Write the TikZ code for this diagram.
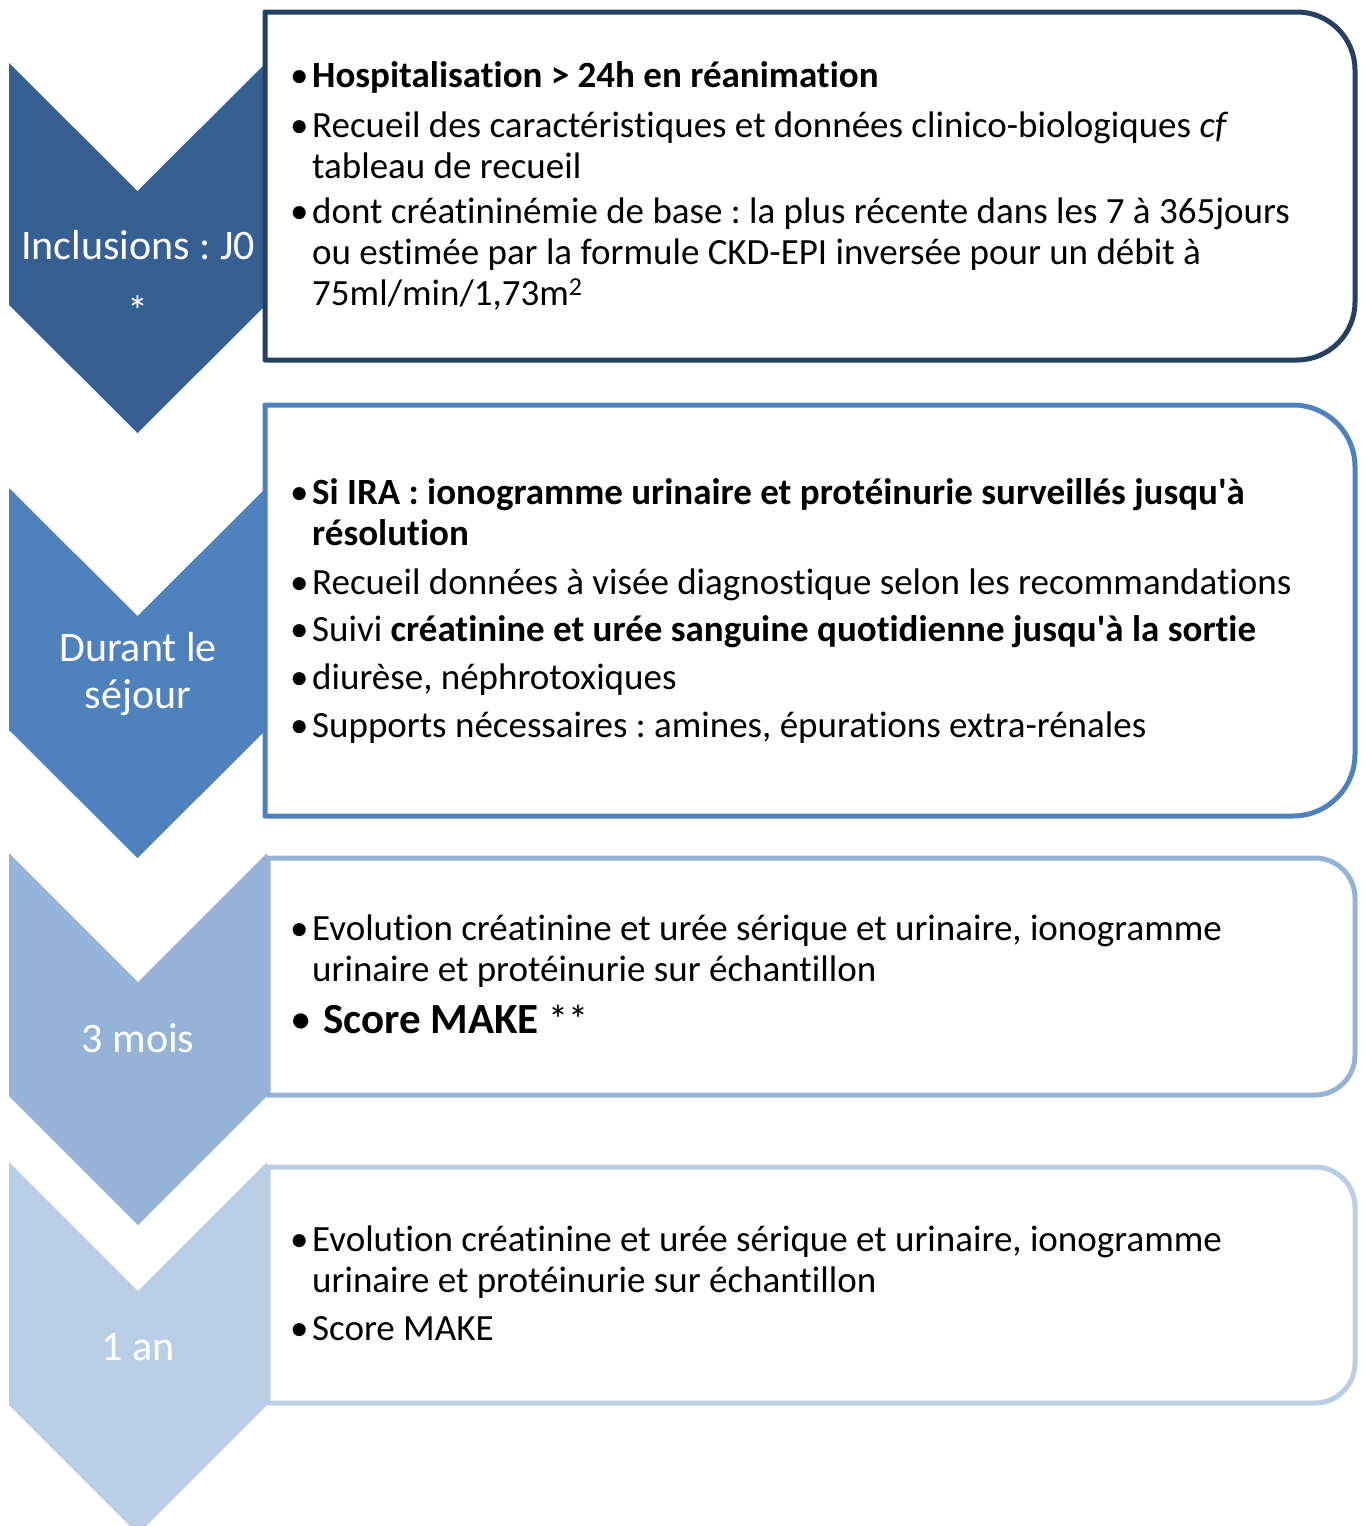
\documentclass[tikz,border=0pt]{standalone}
\usepackage{fontspec}
\setmainfont[Ligatures=NoCommon]{Carlito}
\usepackage{tikz}
\usetikzlibrary{arrows,positioning}
\frenchspacing

\definecolor{navyline}{RGB}{37,64,97}
\definecolor{stepA}{RGB}{55,96,146}
\definecolor{stepB}{RGB}{79,129,189}
\definecolor{stepC}{RGB}{149,179,215}
\definecolor{stepD}{RGB}{185,205,229}

\newcommand{\puce}[1]{\makebox[22pt][l]{\textbullet}\parbox[t]{1200pt}{#1}}

\tikzset{
	chevron/.style={fill=#1, draw=none},
	stagebox/.style={draw=#1, line width=5pt, fill=white, line join=round},
	stagelabel/.style={text=white, font=\fontsize{42}{47}\selectfont, align=center, inner sep=0pt, anchor=base},
	itemtext/.style={anchor=base west, inner sep=0pt, font=\fontsize{37}{41}\selectfont},
}

\begin{document}
\begin{tikzpicture}[x=1pt, y=1pt]
	\useasboundingbox (0,0) rectangle (1364,-1526);
	%\draw [help lines, step=100] (0,0) grid (1364,-1526);
	% chevrons
	\fill [chevron=stepA] (9,-63) -- (137.5,-191) -- (266,-63) -- (266,-305) -- (137.5,-433) -- (9,-305) -- cycle;
	\fill [chevron=stepB] (9,-488) -- (137.5,-616) -- (266,-488) -- (266,-730) -- (137.5,-858) -- (9,-730) -- cycle;
	\fill [chevron=stepC] (9,-853) -- (138,-982) -- (267,-853) -- (267,-1096) -- (138,-1225) -- (9,-1096) -- cycle;
	\fill [chevron=stepD] (9,-1162) -- (138,-1291) -- (267,-1162) -- (267,-1405) -- (138,-1534) -- (9,-1405) -- cycle;
	% boxes
	\draw [stagebox=navyline] (265,-12) -- (1297,-12) arc [start angle=90, end angle=0, radius=58] -- (1355,-302) arc [start angle=0, end angle=-90, radius=58] -- (265,-360) -- cycle;
	\draw [stagebox=stepB] (265,-405) -- (1293,-405) arc [start angle=90, end angle=0, radius=62] -- (1355,-754) arc [start angle=0, end angle=-90, radius=62] -- (265,-816) -- cycle;
	\draw [stagebox=stepC] (268,-858) -- (1315,-858) arc [start angle=90, end angle=0, radius=40] -- (1355,-1055) arc [start angle=0, end angle=-90, radius=40] -- (268,-1095) -- cycle;
	\draw [stagebox=stepD] (268,-1167) -- (1315,-1167) arc [start angle=90, end angle=0, radius=40] -- (1355,-1363) arc [start angle=0, end angle=-90, radius=40] -- (268,-1403) -- cycle;
	% labels (base = last line)
	\node [stagelabel] (inclusions) at (138,-325) {Inclusions : J0\\[19pt]*};
	\node [stagelabel] (sejour) at (138,-708) {Durant le\\séjour};
	\node [stagelabel] (troismois) at (138,-1052) {3 mois};
	\node [stagelabel] (unan) at (138,-1360) {1 an};
	% J0
	\node [itemtext] (hospit) at (290,-87) {\puce{\textbf{Hospitalisation > 24h en réanimation}}};
	\node [itemtext] (recueil) at (290,-137) {\puce{Recueil des caractéristiques et données clinico-biologiques \textit{cf}\\tableau de recueil}};
	\node [itemtext] (creatbase) at (290,-223) {\puce{dont créatininémie de base : la plus récente dans les 7 à 365jours\\ou estimée par la formule CKD-EPI inversée pour un débit à\\75ml/min/1,73m\textsuperscript{2}}};
	% sejour
	\node [itemtext] (ira) at (290,-504) {\puce{\textbf{Si IRA : ionogramme urinaire et protéinurie surveillés jusqu\textquotesingle à}\\\textbf{résolution}}};
	\node [itemtext] (diag) at (290,-594) {\puce{Recueil données à visée diagnostique selon les recommandations}};
	\node [itemtext] (suivi) at (290,-641) {\puce{Suivi \textbf{créatinine et urée sanguine quotidienne jusqu\textquotesingle à la sortie}}};
	\node [itemtext] (diurese) at (290,-689) {\puce{diurèse, néphrotoxiques}};
	\node [itemtext] (supports) at (290,-737) {\puce{Supports nécessaires : amines, épurations extra-rénales}};
	% 3 mois
	\node [itemtext] (evol3) at (290,-940) {\puce{Evolution créatinine et urée sérique et urinaire, ionogramme\\urinaire et protéinurie sur échantillon}};
	\node [itemtext, font=\fontsize{43}{48}\selectfont] (make3) at (290,-1033) {\makebox[33pt][l]{\textbullet}\textbf{Score MAKE} {\fontsize{40}{44}\selectfont **}};
	% 1 an
	\node [itemtext] (evol12) at (290,-1251) {\puce{Evolution créatinine et urée sérique et urinaire, ionogramme\\urinaire et protéinurie sur échantillon}};
	\node [itemtext] (make12) at (290,-1340) {\puce{Score MAKE}};
\end{tikzpicture}
\end{document}
